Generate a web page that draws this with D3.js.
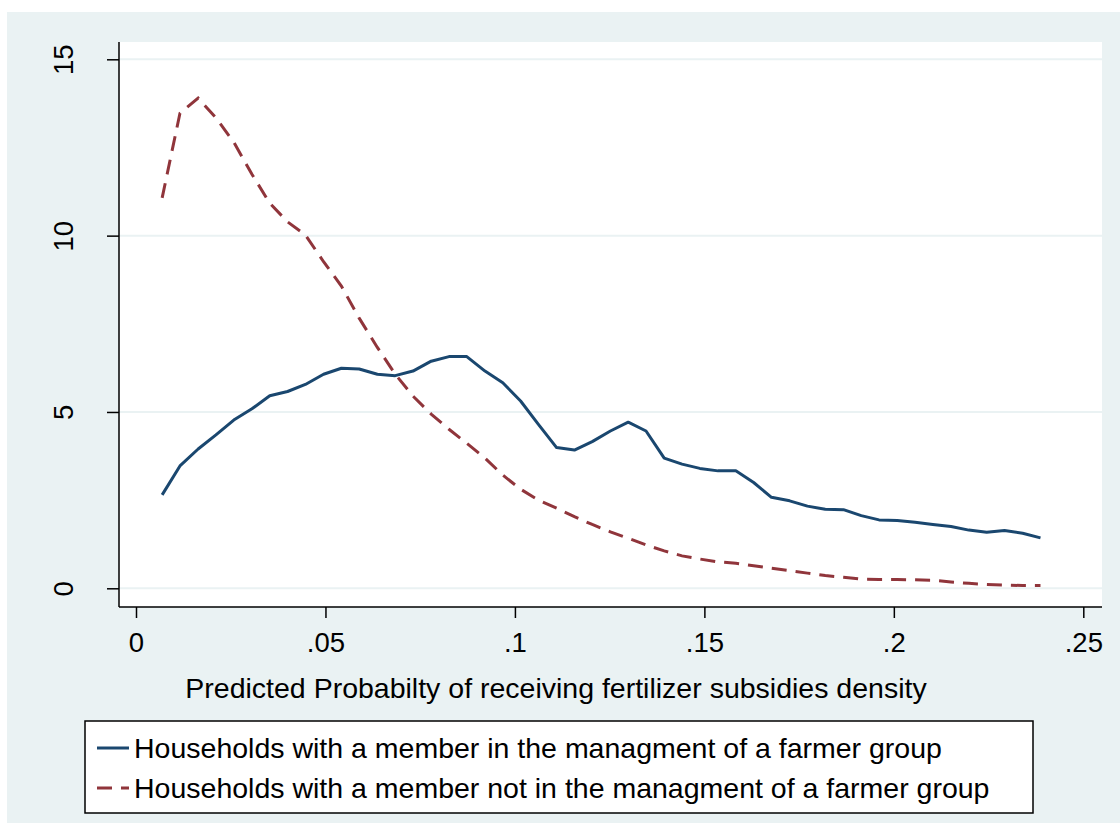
<!DOCTYPE html>
<html>
<head>
<meta charset="utf-8">
<script src="https://cdn.jsdelivr.net/npm/d3@7"></script>
<style>
  body { margin: 0; background: #ffffff; }
  text { font-family: "Liberation Sans", Arial, sans-serif; fill: #000; }
</style>
</head>
<body>
<svg id="chart" width="1120" height="823"></svg>
<script>
// 1: DATA (kernel density estimates, 50 points each)
const xPoints = [0.0069, 0.0116, 0.0164, 0.0211, 0.0258, 0.0306, 0.0353, 0.0400, 0.0447, 0.0495,
                 0.0542, 0.0589, 0.0637, 0.0684, 0.0731, 0.0779, 0.0826, 0.0873, 0.0921, 0.0968,
                 0.1015, 0.1062, 0.1110, 0.1157, 0.1204, 0.1252, 0.1299, 0.1346, 0.1394, 0.1441,
                 0.1488, 0.1536, 0.1583, 0.1630, 0.1677, 0.1725, 0.1772, 0.1819, 0.1867, 0.1914,
                 0.1961, 0.2009, 0.2056, 0.2103, 0.2151, 0.2198, 0.2245, 0.2292, 0.2340, 0.2387];

const inManagement = [2.65, 3.47, 3.95, 4.35, 4.77, 5.09, 5.46, 5.58, 5.78, 6.07,
                      6.24, 6.22, 6.07, 6.03, 6.16, 6.44, 6.57, 6.57, 6.16, 5.83,
                      5.31, 4.65, 3.99, 3.92, 4.16, 4.46, 4.71, 4.46, 3.69, 3.52,
                      3.40, 3.33, 3.33, 3.00, 2.58, 2.48, 2.33, 2.24, 2.23, 2.06,
                      1.94, 1.92, 1.87, 1.81, 1.75, 1.65, 1.59, 1.64, 1.56, 1.43];

const notInManagement = [11.07, 13.47, 13.90, 13.34, 12.65, 11.74, 10.92, 10.39, 10.02, 9.26,
                         8.57, 7.66, 6.83, 6.07, 5.45, 4.94, 4.51, 4.11, 3.69, 3.21,
                         2.81, 2.50, 2.27, 2.03, 1.81, 1.60, 1.42, 1.23, 1.06, 0.92,
                         0.83, 0.75, 0.71, 0.64, 0.57, 0.50, 0.43, 0.36, 0.31, 0.26,
                         0.25, 0.25, 0.24, 0.23, 0.18, 0.14, 0.11, 0.09, 0.08, 0.08];

const xTicks = [0, 0.05, 0.1, 0.15, 0.2, 0.25];
const xTickLabels = ["0", ".05", ".1", ".15", ".2", ".25"];
const yTicks = [0, 5, 10, 15];

const seriesNames = [
    "Households with a member in the managment of a farmer group",
    "Households with a member not in the managment of a farmer group"
];
const xTitle = "Predicted Probabilty of receiving fertilizer subsidies density";

// 2: LAYOUT
const bgColor = "#eaf2f3";
const navy = "#1a476f";
const maroon = "#90353b";
const plot = { left: 119, right: 1102, top: 42, bottom: 607 };

const svg = d3.select("#chart");

// graph region
svg.append("rect")
    .attr("x", 7).attr("y", 12)
    .attr("width", 1113).attr("height", 811)
    .attr("fill", bgColor);

// plot region
svg.append("rect")
    .attr("x", plot.left).attr("y", plot.top)
    .attr("width", plot.right - plot.left).attr("height", plot.bottom - plot.top)
    .attr("fill", "#ffffff");

// 3: SCALES
const x = d3.scaleLinear().domain([0, 0.25]).range([136, 1083.3]);
const y = d3.scaleLinear().domain([0, 15]).range([588.3, 59.3]);

// gridlines
svg.append("g")
    .selectAll("line")
    .data(yTicks)
    .join("line")
    .attr("x1", plot.left).attr("x2", plot.right)
    .attr("y1", d => y(d)).attr("y2", d => y(d))
    .attr("stroke", bgColor)
    .attr("stroke-width", 2);

// 4: LINES
const line = d3.line()
    .x((d, i) => x(xPoints[i]))
    .y(d => y(d));

svg.append("path")
    .datum(inManagement)
    .attr("fill", "none")
    .attr("stroke", navy)
    .attr("stroke-width", 3)
    .attr("stroke-linejoin", "round")
    .attr("d", line);

svg.append("path")
    .datum(notInManagement)
    .attr("fill", "none")
    .attr("stroke", maroon)
    .attr("stroke-width", 3)
    .attr("stroke-dasharray", "15,9")
    .attr("d", line);

// 5: AXES
const xAxis = svg.append("g")
    .attr("transform", `translate(0,${plot.bottom})`)
    .call(d3.axisBottom(x).tickValues(xTicks).tickFormat((d, i) => xTickLabels[i])
        .tickSize(11).tickPadding(14));

const yAxis = svg.append("g")
    .attr("transform", `translate(${plot.left},0)`)
    .call(d3.axisLeft(y).tickValues(yTicks).tickSize(12).tickPadding(0));

[xAxis, yAxis].forEach(g => {
    g.select(".domain").remove();
    g.selectAll(".tick line").attr("stroke", "#000").attr("stroke-width", 1.5);
    g.selectAll("text").attr("font-family", "Liberation Sans, Arial, sans-serif")
        .attr("font-size", 27.5).attr("fill", "#000");
});

// rotated y tick labels
yAxis.selectAll(".tick text")
    .attr("x", null).attr("dy", null)
    .attr("text-anchor", "middle")
    .attr("transform", "translate(-46,0) rotate(-90)");

// axis lines
svg.append("line")
    .attr("x1", plot.left).attr("x2", plot.left)
    .attr("y1", plot.top).attr("y2", plot.bottom)
    .attr("stroke", "#000").attr("stroke-width", 1.5);
svg.append("line")
    .attr("x1", plot.left).attr("x2", plot.right)
    .attr("y1", plot.bottom).attr("y2", plot.bottom)
    .attr("stroke", "#000").attr("stroke-width", 1.5);

// 6: LABELS
svg.append("text")
    .attr("x", 556)
    .attr("y", 698)
    .attr("text-anchor", "middle")
    .attr("font-size", 28.5)
    .text(xTitle);

// legend
const legend = svg.append("g");
legend.append("rect")
    .attr("x", 85).attr("y", 721)
    .attr("width", 948).attr("height", 92)
    .attr("fill", "#ffffff")
    .attr("stroke", "#000")
    .attr("stroke-width", 1.5);

const legendRows = [
    { name: seriesNames[0], color: navy, dash: null, yy: 748 },
    { name: seriesNames[1], color: maroon, dash: "15,9", yy: 788 }
];

legendRows.forEach(r => {
    legend.append("line")
        .attr("x1", 97).attr("x2", 129)
        .attr("y1", r.yy).attr("y2", r.yy)
        .attr("stroke", r.color)
        .attr("stroke-width", 3)
        .attr("stroke-dasharray", r.dash);
    legend.append("text")
        .attr("x", 134)
        .attr("y", r.yy + 10)
        .attr("font-size", 28.5)
        .text(r.name);
});
</script>
</body>
</html>
